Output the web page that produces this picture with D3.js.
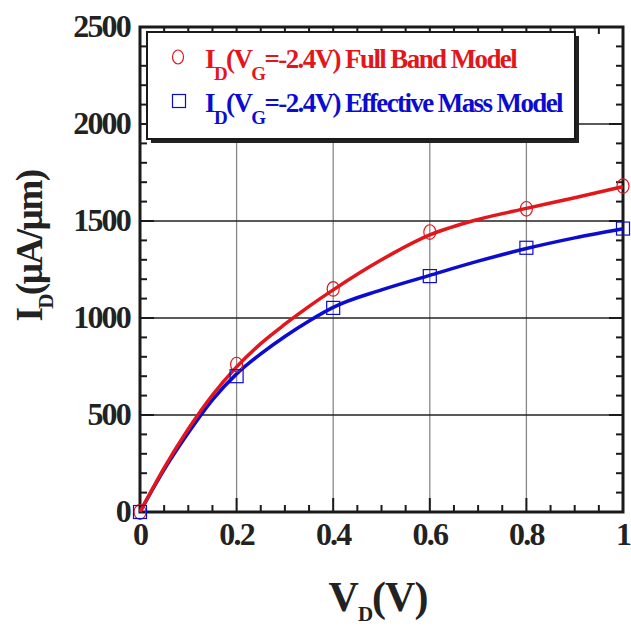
<html>
<head>
  <script src="https://d3js.org/d3.v7.min.js"></script>
  <style>
    body { margin: 0; background: #fff; }
    text { font-family: "Liberation Serif", "Times New Roman", serif; font-weight: bold; }
  </style>
</head>
<body>
  <svg width="631" height="627" id="chart"></svg>
  <script>
    // measured points (markers)
    const vd = [0, 0.2, 0.4, 0.6, 0.8, 1.0];
    const fullBand = [0, 760, 1150, 1443, 1563, 1680];
    const effMass = [0, 700, 1052, 1216, 1362, 1461];

    // fitted curves
    const curveX = [0, 0.05, 0.1, 0.15, 0.2, 0.25, 0.3, 0.35, 0.4, 0.5, 0.6, 0.7, 0.8, 0.9, 1.0];
    const fullBandCurve = [0, 228, 428, 603, 748, 868, 968, 1060, 1145, 1300, 1428, 1508, 1565, 1620, 1677];
    const effMassCurve = [0, 218, 408, 578, 712, 815, 905, 985, 1055, 1145, 1220, 1293, 1358, 1413, 1460];

    const xTicks = [0, 0.2, 0.4, 0.6, 0.8, 1];
    const xTickLabels = ["0", "0.2", "0.4", "0.6", "0.8", "1"];
    const yTicks = [0, 500, 1000, 1500, 2000, 2500];

    const red = "#e3161b";
    const blue = "#0c0cd0";

    const svg = d3.select("#chart");
    const x = d3.scaleLinear().domain([0, 1]).range([140, 623]);
    const y = d3.scaleLinear().domain([0, 2500]).range([512, 27]);

    const grid = svg.append("g");
    grid.selectAll("line.v").data(xTicks.slice(1, -1)).join("line")
      .attr("x1", d => x(d)).attr("x2", d => x(d))
      .attr("y1", y(0)).attr("y2", y(2500))
      .attr("stroke", "#888").attr("stroke-width", 1.3);
    grid.selectAll("line.h").data(yTicks.slice(1, -1)).join("line")
      .attr("y1", d => y(d)).attr("y2", d => y(d))
      .attr("x1", x(0)).attr("x2", x(1))
      .attr("stroke", "#222").attr("stroke-width", 1.3);

    // ticks on all four sides, pointing inwards
    const ticks = svg.append("g").attr("stroke", "#1a1a1a").attr("stroke-width", 2);
    const xMinor = d3.range(0, 1.0001, 0.05);
    const yMinor = d3.range(0, 2500.1, 100);
    xMinor.forEach(v => {
      const major = Math.abs(v * 5 - Math.round(v * 5)) < 1e-6;
      const len = major ? 14 : 7;
      ticks.append("line").attr("x1", x(v)).attr("x2", x(v)).attr("y1", y(0)).attr("y2", y(0) - len);
      ticks.append("line").attr("x1", x(v)).attr("x2", x(v)).attr("y1", y(2500)).attr("y2", y(2500) + len);
    });
    yMinor.forEach(v => {
      const len = v % 500 === 0 ? 14 : 7;
      ticks.append("line").attr("y1", y(v)).attr("y2", y(v)).attr("x1", x(0)).attr("x2", x(0) + len);
      ticks.append("line").attr("y1", y(v)).attr("y2", y(v)).attr("x1", x(1)).attr("x2", x(1) - len);
    });

    // frame
    svg.append("rect")
      .attr("x", x(0)).attr("y", y(2500))
      .attr("width", x(1) - x(0)).attr("height", y(0) - y(2500))
      .attr("fill", "none").attr("stroke", "#1a1a1a").attr("stroke-width", 3);

    // tick labels
    svg.append("g").selectAll("text").data(xTicks).join("text")
      .attr("x", d => x(d)).attr("y", 545)
      .attr("text-anchor", "middle")
      .attr("font-size", 32).attr("letter-spacing", -1.8).attr("fill", "#222")
      .text((d, i) => xTickLabels[i]);
    svg.append("g").selectAll("text").data(yTicks).join("text")
      .attr("x", 130).attr("y", d => y(d) + 10)
      .attr("text-anchor", "end")
      .attr("font-size", 32).attr("letter-spacing", -1.8).attr("fill", "#222")
      .text(d => d);

    // axis titles
    const xt = svg.append("text").attr("x", 378).attr("y", 611)
      .attr("text-anchor", "middle").attr("font-size", 42).attr("letter-spacing", -1).attr("fill", "#222");
    xt.append("tspan").text("V");
    xt.append("tspan").attr("dy", 10).attr("font-size", 21).text("D");
    xt.append("tspan").attr("dy", -10).text("(V)");

    const yt = svg.append("text").attr("transform", "translate(42,246) rotate(-90)")
      .attr("text-anchor", "middle").attr("font-size", 37).attr("letter-spacing", -1.5).attr("fill", "#222");
    yt.append("tspan").text("I");
    yt.append("tspan").attr("dy", 11).attr("font-size", 21).text("D");
    yt.append("tspan").attr("dy", -11).text("(\u00b5A/\u00b5m)");

    // curves
    const line = d3.line().x(d => x(d[0])).y(d => y(d[1])).curve(d3.curveMonotoneX);
    svg.append("path").datum(d3.zip(curveX, effMassCurve))
      .attr("d", line).attr("fill", "none").attr("stroke", blue).attr("stroke-width", 3.5);
    svg.append("path").datum(d3.zip(curveX, fullBandCurve))
      .attr("d", line).attr("fill", "none").attr("stroke", red).attr("stroke-width", 3.5);

    // markers
    svg.append("g").selectAll("ellipse").data(d3.zip(vd, fullBand)).join("ellipse")
      .attr("cx", d => x(d[0])).attr("cy", d => y(d[1]))
      .attr("rx", 6).attr("ry", 7.3)
      .attr("fill", "none").attr("stroke", red).attr("stroke-width", 1.2);
    svg.append("g").selectAll("rect").data(d3.zip(vd, effMass)).join("rect")
      .attr("x", d => x(d[0]) - 6.5).attr("y", d => y(d[1]) - 6.5)
      .attr("width", 13).attr("height", 13)
      .attr("fill", "none").attr("stroke", blue).attr("stroke-width", 1.2);

    // legend
    const lg = svg.append("g");
    lg.append("rect").attr("x", 151).attr("y", 36).attr("width", 428).attr("height", 107).attr("fill", "#222");
    lg.append("rect").attr("x", 147).attr("y", 32).attr("width", 428).attr("height", 107)
      .attr("fill", "#fff").attr("stroke", "#1a1a1a").attr("stroke-width", 2);

    const entries = [
      { label: "=-2.4V) Full Band Model", color: red, shape: "circle", cy: 57 },
      { label: "=-2.4V) Effective Mass Model", color: blue, shape: "square", cy: 101 }
    ];
    entries.forEach(e => {
      if (e.shape === "circle") {
        lg.append("ellipse").attr("cx", 178).attr("cy", e.cy).attr("rx", 5.5).attr("ry", 7)
          .attr("fill", "none").attr("stroke", e.color).attr("stroke-width", 1.2);
      } else {
        lg.append("rect").attr("x", 172.5).attr("y", e.cy - 6.5).attr("width", 13).attr("height", 13)
          .attr("fill", "none").attr("stroke", e.color).attr("stroke-width", 1.2);
      }
      const t = lg.append("text").attr("x", 205).attr("y", e.cy + 11)
        .attr("font-size", 27).attr("letter-spacing", -1.6).attr("fill", e.color);
      t.append("tspan").text("I");
      t.append("tspan").attr("dy", 12).attr("font-size", 19).text("D");
      t.append("tspan").attr("dy", -12).text("(V");
      t.append("tspan").attr("dy", 12).attr("font-size", 19).text("G");
      t.append("tspan").attr("dy", -12).text(e.label);
    });
  </script>
</body>
</html>
